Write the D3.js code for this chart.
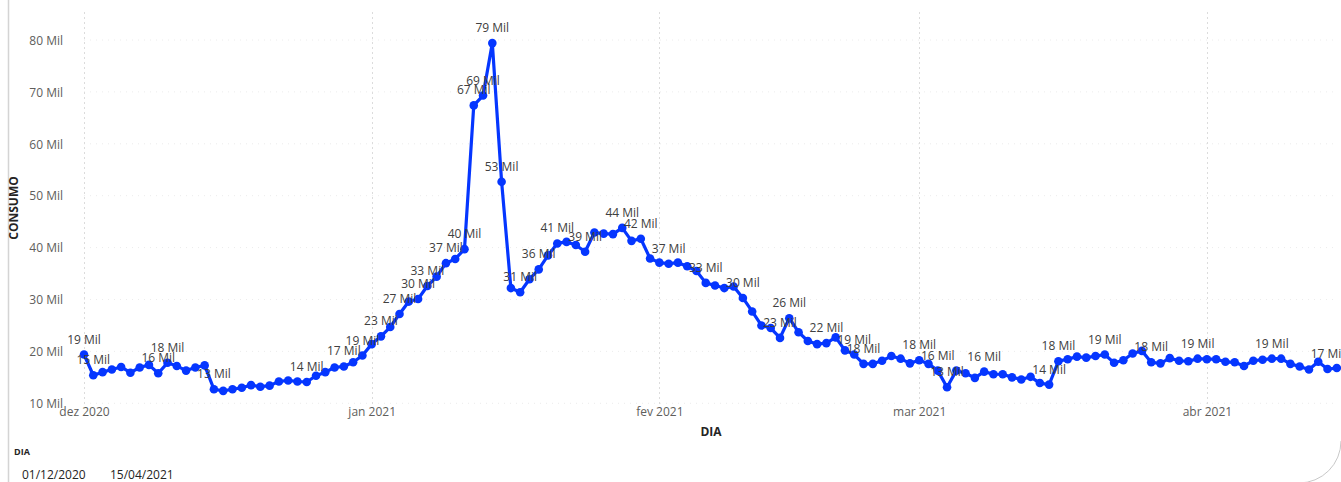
<!DOCTYPE html>
<html>
<head>
<meta charset="utf-8">
<script src="https://cdn.jsdelivr.net/npm/d3@7"></script>
<style>
  html, body { margin: 0; padding: 0; background: #ffffff; }
  svg { display: block; }
  text { font-family: "Segoe UI", "Open Sans", "Noto Sans", sans-serif; }
</style>
</head>
<body>
<svg id="chart" width="1341" height="482"></svg>
<script>
// Daily consumption (thousands) from 01/12/2020 to 15/04/2021
const firstDay = "2020-12-01";
const lastDay = "2021-04-15";
const consumo = [
  19.4, 15.4, 16.0, 16.5, 17.0, 15.9, 16.9, 17.4, 15.8, 17.8,
  17.2, 16.3, 16.9, 17.3, 12.7, 12.4, 12.7, 13.0, 13.5, 13.2,
  13.4, 14.2, 14.4, 14.2, 14.1, 15.3, 16.0, 16.9, 17.1, 17.9,
  19.2, 21.4, 22.9, 24.7, 27.2, 29.6, 30.1, 32.6, 34.4, 37.0,
  37.8, 39.7, 67.4, 69.3, 79.4, 52.7, 32.2, 31.4, 33.9, 35.8,
  38.5, 40.8, 41.1, 40.5, 39.2, 42.9, 42.7, 42.6, 43.8, 41.3,
  41.7, 37.9, 37.1, 36.9, 37.1, 36.4, 35.5, 33.2, 32.7, 32.2,
  32.5, 30.3, 27.7, 25.0, 24.5, 22.6, 26.4, 23.7, 22.0, 21.4,
  21.6, 22.7, 20.2, 19.4, 17.6, 17.6, 18.2, 19.1, 18.6, 17.7,
  18.3, 17.6, 16.3, 13.1, 16.3, 15.8, 14.9, 16.1, 15.6, 15.6,
  15.0, 14.6, 15.1, 13.9, 13.6, 18.1, 18.5, 19.0, 18.8, 19.1,
  19.4, 17.8, 18.3, 19.6, 20.1, 17.9, 17.7, 18.7, 18.2, 18.1,
  18.6, 18.5, 18.5, 18.0, 17.9, 17.2, 18.2, 18.4, 18.6, 18.6,
  17.6, 17.1, 16.5, 18.0, 16.6, 16.8
];
// Days (index from 01/12/2020) that carry a data label
const labelledDays = [0, 1, 8, 9, 14, 24, 28, 30, 32, 34, 36, 37, 39, 41, 42, 43, 44, 45,
  47, 49, 51, 54, 58, 60, 63, 67, 71, 75, 76, 80, 83, 84, 90, 92, 93, 97, 104, 105,
  110, 115, 120, 128, 134];

const yTickValues = [10, 20, 30, 40, 50, 60, 70, 80];
const yTickLabels = ["10 Mil", "20 Mil", "30 Mil", "40 Mil", "50 Mil", "60 Mil", "70 Mil", "80 Mil"];
const xTickDates = ["2020-12-01", "2021-01-01", "2021-02-01", "2021-03-01", "2021-04-01"];
const xTickLabels = ["dez 2020", "jan 2021", "fev 2021", "mar 2021", "abr 2021"];
const slicerRange = ["01/12/2020", "15/04/2021"];

const parse = d3.utcParse("%Y-%m-%d");
const days = d3.utcDay.range(parse(firstDay), d3.utcDay.offset(parse(lastDay), 1));
const data = days.map((d, i) => ({ date: d, value: consumo[i], i }));

const svg = d3.select("#chart");
const LINE = "#0536ff";

const x = d3.scaleUtc()
  .domain([parse(firstDay), parse(lastDay)])
  .range([84, 1336.8]);
const y = d3.scaleLinear()
  .domain([10, 80])
  .range([403.3, 40]);

// left panel edge
svg.append("line")
  .attr("x1", 8.5).attr("x2", 8.5).attr("y1", 0).attr("y2", 482)
  .attr("stroke", "#d4d4d4").attr("stroke-width", 1.5);

// bottom-right rounded corner of the visual container
svg.append("path")
  .attr("d", "M1341,441 A42,42 0 0 1 1299,483")
  .attr("fill", "none").attr("stroke", "#c8c8c8").attr("stroke-width", 1);

// horizontal gridlines
svg.append("g").selectAll("line")
  .data(yTickValues)
  .join("line")
  .attr("x1", 84).attr("x2", 1337)
  .attr("y1", d => y(d)).attr("y2", d => y(d))
  .attr("stroke", "#ececec").attr("stroke-width", 1)
  .attr("stroke-dasharray", "1,5");

// vertical month gridlines
const xTicks = xTickDates.map(parse);
svg.append("g").selectAll("line")
  .data(xTicks)
  .join("line")
  .attr("x1", d => Math.round(x(d)) + 0.5).attr("x2", d => Math.round(x(d)) + 0.5)
  .attr("y1", 12).attr("y2", 405)
  .attr("stroke", "#dcdcdc").attr("stroke-width", 1)
  .attr("stroke-dasharray", "2,3");

// y axis
const yAxis = d3.axisLeft(y)
  .tickValues(yTickValues)
  .tickFormat((d, i) => yTickLabels[i])
  .tickSize(0).tickPadding(0);
const gy = svg.append("g").attr("transform", "translate(63,0)").call(yAxis);
gy.select(".domain").remove();
gy.selectAll("text")
  .attr("fill", "#605e5c").attr("font-size", 12)
  .attr("dy", "0.35em");

// x axis
const xAxis = d3.axisBottom(x)
  .tickValues(xTicks)
  .tickFormat((d, i) => xTickLabels[i])
  .tickSize(0).tickPadding(0);
const gx = svg.append("g").attr("transform", "translate(0,405)").call(xAxis);
gx.select(".domain").remove();
gx.selectAll("text")
  .attr("fill", "#605e5c").attr("font-size", 12)
  .attr("dy", "0.95em");

// axis titles
svg.append("text")
  .attr("transform", "translate(18,208) rotate(-90)")
  .attr("text-anchor", "middle")
  .attr("font-size", 12).attr("font-weight", "bold")
  .attr("fill", "#252423")
  .text("CONSUMO");
svg.append("text")
  .attr("x", 711).attr("y", 436)
  .attr("text-anchor", "middle")
  .attr("font-size", 12).attr("font-weight", "bold")
  .attr("fill", "#252423")
  .text("DIA");

// line + markers
const line = d3.line().x(d => x(d.date)).y(d => y(d.value));
svg.append("path")
  .datum(data)
  .attr("d", line)
  .attr("fill", "none")
  .attr("stroke", LINE)
  .attr("stroke-width", 3.2)
  .attr("stroke-linejoin", "round");
svg.append("g").selectAll("circle")
  .data(data)
  .join("circle")
  .attr("cx", d => x(d.date))
  .attr("cy", d => y(d.value))
  .attr("r", 4.3)
  .attr("fill", LINE);

// data labels
svg.append("g").selectAll("text")
  .data(labelledDays.map(i => data[i]))
  .join("text")
  .attr("x", d => x(d.date))
  .attr("y", d => y(d.value) - 11)
  .attr("text-anchor", "middle")
  .attr("font-size", 12)
  .attr("fill", "#404040")
  .text(d => Math.round(d.value) + " Mil");

// date-range slicer
svg.append("text")
  .attr("x", 14).attr("y", 455)
  .attr("font-size", 9).attr("font-weight", "bold")
  .attr("fill", "#252423")
  .text("DIA");
svg.selectAll("text.range")
  .data(slicerRange)
  .join("text")
  .attr("class", "range")
  .attr("x", (d, i) => i === 0 ? 22 : 110)
  .attr("y", 479)
  .attr("font-size", 12)
  .attr("fill", "#252423")
  .text(d => d);
</script>
</body>
</html>
